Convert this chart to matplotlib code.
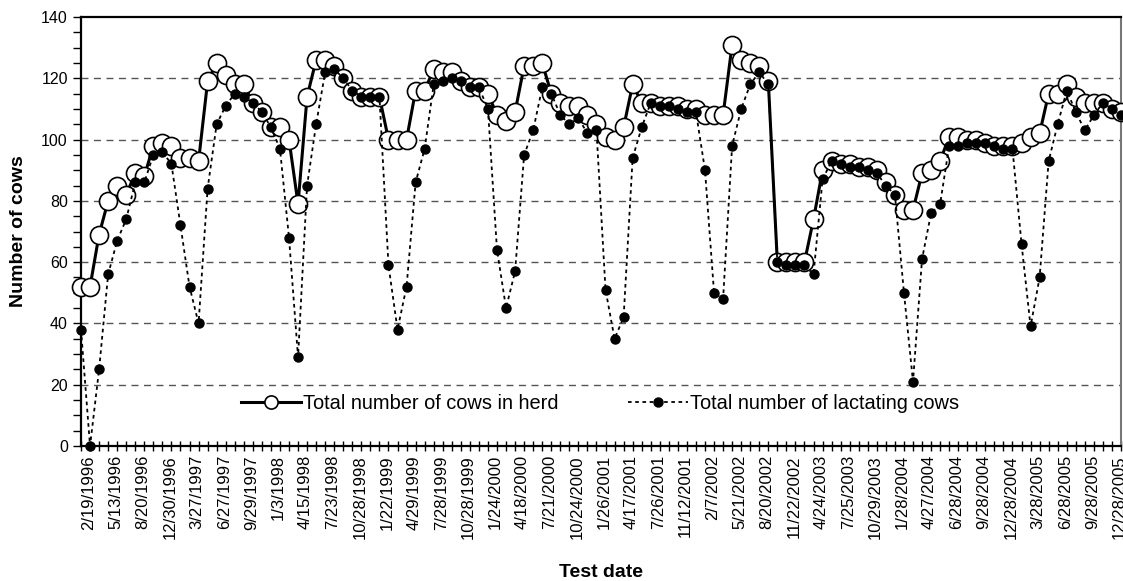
import numpy as np
import matplotlib
matplotlib.use("Agg")
import matplotlib.pyplot as plt

plt.rcParams['font.family'] = ['Liberation Sans', 'DejaVu Sans']

# cows per test date (one value per monthly test, 116 tests)
total_herd = [52, 52, 69, 80, 85, 82, 89, 88, 98, 99, 98, 94, 94, 93, 119, 125,
              121, 118, 118, 112, 109, 104, 104, 100, 79, 114, 126, 126, 124, 120,
              116, 114, 114, 114, 100, 100, 100, 116, 116, 123, 122, 122, 119, 117,
              117, 115, 108, 106, 109, 124, 124, 125, 115, 112, 111, 111, 108, 105,
              101, 100, 104, 118, 112, 112, 111, 111, 111, 110, 110, 108, 108, 108,
              131, 126, 125, 124, 119, 60, 60, 60, 60, 74, 90, 93, 92, 92, 91, 91,
              90, 86, 82, 77, 77, 89, 90, 93, 101, 101, 100, 100, 99, 98, 98, 98,
              99, 101, 102, 115, 115, 118, 114, 112, 112, 112, 110, 109]

lactating = [38, 0, 25, 56, 67, 74, 86, 86, 95, 96, 92, 72, 52, 40, 84, 105,
             111, 115, 114, 112, 109, 104, 97, 68, 29, 85, 105, 122, 123, 120,
             116, 114, 114, 114, 59, 38, 52, 86, 97, 118, 119, 120, 119, 117,
             117, 110, 64, 45, 57, 95, 103, 117, 115, 108, 105, 107, 102, 103,
             51, 35, 42, 94, 104, 112, 111, 111, 110, 109, 109, 90, 50, 48,
             98, 110, 118, 122, 118, 60, 59, 59, 59, 56, 87, 93, 92, 91, 91, 90,
             89, 85, 82, 50, 21, 61, 76, 79, 98, 98, 99, 99, 99, 98, 97, 97,
             66, 39, 55, 93, 105, 116, 109, 103, 108, 112, 110, 108]

# every third test date is labelled on the axis
date_labels = ['2/19/1996', '5/13/1996', '8/20/1996', '12/30/1996', '3/27/1997',
               '6/27/1997', '9/29/1997', '1/3/1998', '4/15/1998', '7/23/1998',
               '10/28/1998', '1/22/1999', '4/29/1999', '7/28/1999', '10/28/1999',
               '1/24/2000', '4/18/2000', '7/21/2000', '10/24/2000', '1/26/2001',
               '4/17/2001', '7/26/2001', '11/12/2001', '2/7/2002', '5/21/2002',
               '8/20/2002', '11/22/2002', '4/24/2003', '7/25/2003', '10/29/2003',
               '1/28/2004', '4/27/2004', '6/28/2004', '9/28/2004', '12/28/2004',
               '3/28/2005', '6/28/2005', '9/28/2005', '12/28/2005']

n = len(total_herd)
x = np.arange(n)

fig = plt.figure(figsize=(11.23, 5.81), dpi=100)
ax = fig.add_axes([81/1123, 1 - 446/581, 1040/1123, 429/581])

ax.plot(x, total_herd, '-', color='black', lw=2.2, marker='o', ms=13,
        mfc='white', mec='black', mew=1.2, clip_on=False, zorder=3,
        label='Total number of cows in herd')
ax.plot(x, lactating, color='black', lw=1.3, ls=(0, (2, 2)), marker='o', ms=6.5,
        mfc='black', mec='black', clip_on=False, zorder=4,
        label='Total number of lactating cows')

ax.set_xlim(0, n - 1)
ax.set_ylim(0, 140)

ax.set_yticks(np.arange(0, 141, 20))
ax.set_yticks(np.arange(0, 141, 5), minor=True)
for v in range(20, 140, 20):
    ax.axhline(v, color='#555555', lw=1, ls=(0, (5, 4)), zorder=1)

labels = []
for i in range(n):
    labels.append(date_labels[i // 3] if i % 3 == 0 else '')
ax.set_xticks(x)
ax.set_xticklabels(labels, rotation=90, fontsize=12, ha='left')

ax.tick_params(axis='x', direction='inout', length=7, width=1, pad=3)
ax.tick_params(axis='y', which='both', direction='out', length=6, width=1, labelsize=11.5)

for side in ['left', 'bottom', 'top']:
    ax.spines[side].set_linewidth(1.6)
    ax.spines[side].set_color('black')
ax.spines['right'].set_color('#777777')
ax.spines['right'].set_linewidth(1.5)

ax.set_ylabel('Number of cows', fontsize=14, fontweight='bold', labelpad=10)
ax.set_xlabel('Test date', fontsize=14, fontweight='bold', labelpad=18)

leg = ax.legend(loc='center', bbox_to_anchor=(0.499, 0.1), ncol=2, frameon=False,
                fontsize=14.4, handlelength=3, handletextpad=0.1, columnspacing=3.5)
leg.legend_handles[0].set_markersize(9.5)

fig.savefig('out.png', dpi=100)
